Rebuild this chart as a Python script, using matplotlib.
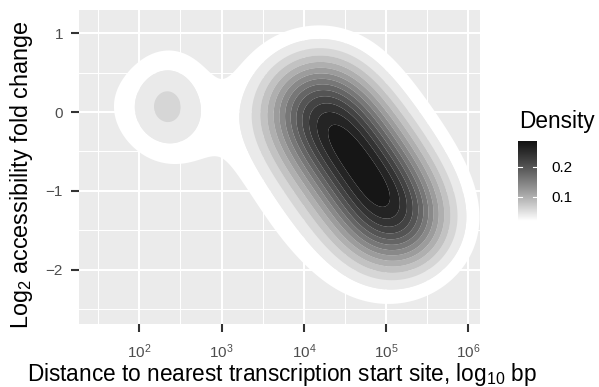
import numpy as np
import matplotlib
matplotlib.use("Agg")
import matplotlib.pyplot as plt

plt.rcParams["font.family"] = ["Liberation Sans", "DejaVu Sans"]
plt.rcParams["mathtext.fontset"] = "custom"
plt.rcParams["mathtext.rm"] = "Liberation Sans"
plt.rcParams["mathtext.it"] = "Liberation Sans:italic"
plt.rcParams["mathtext.bf"] = "Liberation Sans:bold"

# density read off the picture as a sum of gaussian blobs
# x = log10 distance to TSS, y = log2 fold change
# rows: 5 along the main ridge, a broad skirt, two for the small cluster
comp_x = [4.08, 4.38, 4.68, 4.96, 5.20, 4.28, 2.36, 2.20]
comp_y = [0.20, -0.20, -0.62, -1.06, -1.50, -0.80, 0.15, -0.12]
comp_major = [0.42, 0.42, 0.42, 0.42, 0.42, 1.00, 0.44, 0.62]
comp_minor = [0.48, 0.48, 0.48, 0.48, 0.46, 0.66, 0.34, 0.40]
comp_angle = [-53, -53, -55, -58, -60, -63, 90, -30]
comp_weight = [0.148, 0.165, 0.165, 0.170, 0.158, 0.15, 0.046, 0.03]

levels = [0.02, 0.04, 0.06, 0.08, 0.10, 0.12, 0.14, 0.16,
          0.18, 0.20, 0.22, 0.24, 0.26, 0.28, 0.30]
fill_limits = (0.02, 0.30)

x_ticks = [2, 3, 4, 5, 6]
x_tick_labels = ["$10^2$", "$10^3$", "$10^4$", "$10^5$", "$10^6$"]
y_ticks = [-2, -1, 0, 1]
y_tick_labels = ["\u22122", "\u22121", "0", "1"]
cbar_ticks = [0.1, 0.2]
cbar_tick_labels = ["0.1", "0.2"]


def lab_grey(t):
    # white -> black interpolated in Lab lightness, like ggplot's gradient
    L = 100.0 * (1.0 - np.clip(t, 0, 1))
    Y = np.where(L > 8, ((L + 16) / 116.0) ** 3, L / 903.3)
    v = np.where(Y > 0.0031308, 1.055 * Y ** (1 / 2.4) - 0.055, 12.92 * Y)
    return v


def density(X, Y):
    Z = np.zeros_like(X)
    for cx, cy, sM, sm, ang, w in zip(comp_x, comp_y, comp_major, comp_minor,
                                      comp_angle, comp_weight):
        th = np.deg2rad(ang)
        dx, dy = X - cx, Y - cy
        a = dx * np.cos(th) + dy * np.sin(th)
        b = -dx * np.sin(th) + dy * np.cos(th)
        Z += w / (2 * np.pi * sM * sm) * np.exp(-0.5 * (a ** 2 / sM ** 2 + b ** 2 / sm ** 2))
    return Z


W, H = 599, 387
fig = plt.figure(figsize=(W / 100, H / 100), dpi=100, facecolor="white")
ax = fig.add_axes([79 / W, 1 - 324 / H, (480 - 79) / W, (324 - 10) / H])
ax.set_facecolor("#EBEBEB")

gx = np.linspace(0.8, 6.6, 500)
gy = np.linspace(-3.2, 1.8, 500)
GX, GY = np.meshgrid(gx, gy)
GZ = density(GX, GY)

span = fill_limits[1] - fill_limits[0]
fill_cols = [str(float(lab_grey((lv - fill_limits[0]) / span))) for lv in levels]
ax.contourf(GX, GY, GZ, levels=levels + [10.0], colors=fill_cols,
            antialiased=True, zorder=2)

ax.set_xlim(1.267, 6.14)
ax.set_ylim(-2.69, 1.296)

ax.set_xticks(x_ticks)
ax.set_xticklabels(x_tick_labels)
ax.set_yticks(y_ticks)
ax.set_yticklabels(y_tick_labels)
ax.set_xticks([1.5, 2.5, 3.5, 4.5, 5.5], minor=True)
ax.set_yticks([-2.5, -1.5, -0.5, 0.5], minor=True)
ax.grid(True, which="major", color="white", lw=1.5, zorder=1)
ax.grid(True, which="minor", color="white", lw=0.75, zorder=1)
ax.set_axisbelow(True)
for s in ax.spines.values():
    s.set_visible(False)
ax.tick_params(which="major", length=5.5, width=1.5, color="#333333",
               labelcolor="#4D4D4D", labelsize=11)
ax.tick_params(axis="x", pad=7.5)
ax.tick_params(axis="y", pad=6)
ax.tick_params(which="minor", length=0)

fig.text(281.5 / W, 1 - 381 / H,
         "Distance to nearest transcription start site, log$_{10}$ bp",
         ha="center", va="baseline", fontsize=16.3, color="black")
fig.text(28 / W, 1 - 175 / H, "Log$_2$ accessibility fold change",
         ha="center", va="baseline", rotation=90, rotation_mode="anchor",
         fontsize=16.8, color="black")

# colour bar
cax = fig.add_axes([518 / W, 1 - 221 / H, (537 - 518) / W, (221 - 141) / H])
cb_lo, cb_hi = 0.019, 0.286
grad = np.linspace(cb_lo, cb_hi, 300)
cvals = lab_grey((grad - fill_limits[0]) / span)
img = np.repeat(cvals[:, None], 2, axis=1)
cax.imshow(np.dstack([img, img, img]), origin="lower", aspect="auto",
           extent=[0, 1, cb_lo, cb_hi], interpolation="bilinear")
cax.set_xlim(0, 1)
cax.set_ylim(cb_lo, cb_hi)
for t in cbar_ticks:
    cax.plot([0, 0.2], [t, t], color="white", lw=0.8)
    cax.plot([0.8, 1], [t, t], color="white", lw=0.8)
cax.set_xticks([])
cax.set_yticks(cbar_ticks)
cax.set_yticklabels(cbar_tick_labels)
cax.yaxis.tick_right()
cax.tick_params(length=0, pad=10, labelsize=11, labelcolor="black")
for s in cax.spines.values():
    s.set_visible(False)
fig.text(519 / W, 1 - 128 / H, "Density", ha="left", va="baseline",
         fontsize=16.3, color="black")

fig.savefig("out.png", dpi=100, facecolor="white")
